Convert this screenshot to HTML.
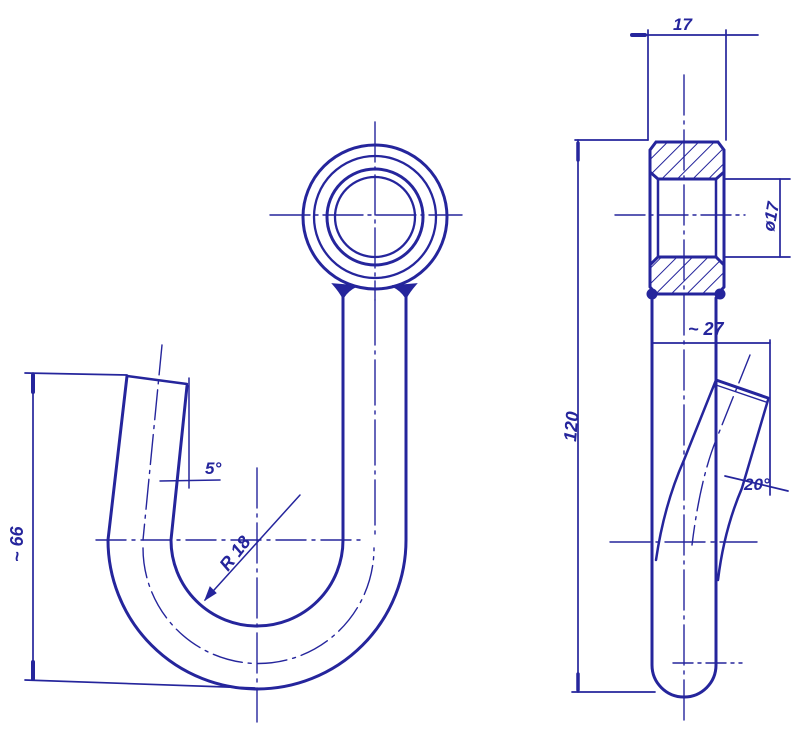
<!DOCTYPE html>
<html><head><meta charset="utf-8"><style>
html,body{margin:0;padding:0;background:#fff}
svg{display:block}
text{font-family:"Liberation Sans",sans-serif;font-style:italic;font-weight:bold;fill:#25259c}
</style></head><body>
<svg width="800" height="736" viewBox="0 0 800 736" xmlns="http://www.w3.org/2000/svg">
<defs>
<pattern id="h" width="11" height="11" patternUnits="userSpaceOnUse" patternTransform="rotate(45)">
<line x1="0" y1="0" x2="0" y2="11" stroke="#25259c" stroke-width="2"/>
</pattern>
</defs>
<g fill="none" stroke="#25259c" stroke-width="2.3" stroke-linecap="round">
<circle cx="375" cy="217" r="72" stroke-width="3"/>
<circle cx="375" cy="217" r="61" stroke-width="2.3"/>
<circle cx="375" cy="217" r="48" stroke-width="3"/>
<circle cx="375" cy="217" r="40" stroke-width="2.3"/>
<g stroke-width="1.4">
<line x1="270" y1="215" x2="462" y2="215" stroke-dasharray="40 5 3 5"/>
<line x1="375" y1="122" x2="375" y2="300" stroke-dasharray="40 5 3 5"/>
<line x1="375" y1="300" x2="375" y2="540" stroke-dasharray="45 6 3 6"/>
</g>
<path d="M333 284 Q340 292 343 298 Q348 290 357 286 Z" fill="#25259c" stroke-width="1.5"/>
<path d="M416 284 Q409 292 406 298 Q401 290 392 286 Z" fill="#25259c" stroke-width="1.5"/>
<path d="M406 292 L406 540 A149 149 0 0 1 108 540 L127 376" stroke-width="3"/>
<path d="M343 295 L343 540 A86 86 0 0 1 171 540 L187 386" stroke-width="3"/>
<path d="M127 376 L187 384" stroke-width="2.5"/>
<g stroke-width="1.4" stroke-dasharray="30 6 3 6">
<line x1="162" y1="345" x2="143" y2="540"/>
<path d="M143 548 A114 114 0 0 0 374 548"/>
</g>
<g stroke-width="1.4">
<line x1="96" y1="540" x2="360" y2="540" stroke-dasharray="30 6 3 6"/>
<line x1="257" y1="468" x2="257" y2="722" stroke-dasharray="40 6 3 6"/>
</g>
<line x1="205" y1="600" x2="300" y2="495" stroke-width="1.5"/>
<path d="M205 600 L210 587 L216 593 Z" fill="#25259c" stroke-width="1"/>
<g stroke-width="1.5">
<line x1="189" y1="378" x2="189" y2="488"/>
<line x1="160" y1="481" x2="220" y2="480"/>
</g>
<g stroke-width="1.7">
<line x1="33" y1="373" x2="33" y2="680"/>
<line x1="25" y1="373" x2="127" y2="375"/>
<line x1="25" y1="680" x2="255" y2="688"/>
</g>
<line x1="33" y1="375" x2="33" y2="392" stroke-width="4"/>
<line x1="33" y1="662" x2="33" y2="679" stroke-width="4"/>

<g stroke-width="1.7">
<line x1="632" y1="35" x2="758" y2="35"/>
<line x1="648" y1="30" x2="648" y2="140"/>
<line x1="726" y1="30" x2="726" y2="140"/>
<line x1="575" y1="140" x2="648" y2="140"/>
<line x1="578" y1="140" x2="578" y2="692"/>
<line x1="572" y1="692" x2="655" y2="692"/>
</g>
<line x1="632" y1="35" x2="645" y2="35" stroke-width="4"/>
<line x1="578" y1="143" x2="578" y2="160" stroke-width="3.5"/>
<line x1="578" y1="674" x2="578" y2="690" stroke-width="3.5"/>
<path d="M656 142 L718 142 L724 150 L724 172 L716 179 L658 179 L650 172 L650 150 Z" fill="url(#h)" stroke-width="3"/>
<path d="M658 257 L716 257 L724 265 L724 287 L718 294 L656 294 L650 287 L650 265 Z" fill="url(#h)" stroke-width="3"/>
<line x1="650" y1="172" x2="650" y2="265" stroke-width="3"/>
<line x1="724" y1="172" x2="724" y2="265" stroke-width="3"/>
<line x1="658" y1="179" x2="658" y2="257" stroke-width="2.5"/>
<line x1="716" y1="179" x2="716" y2="257" stroke-width="2.5"/>
<g stroke-width="1.7">
<line x1="724" y1="179" x2="790" y2="179"/>
<line x1="724" y1="257" x2="790" y2="257"/>
<line x1="780" y1="179" x2="780" y2="257"/>
</g>
<g stroke-width="1.4">
<line x1="615" y1="215" x2="745" y2="215" stroke-dasharray="30 5 3 5"/>
<line x1="684" y1="75" x2="684" y2="725" stroke-dasharray="40 6 3 6"/>
</g>
<circle cx="652" cy="294" r="5.5" fill="#25259c" stroke="none"/>
<circle cx="720" cy="294" r="5.5" fill="#25259c" stroke="none"/>
<path d="M652 298 L652 665 A32 32 0 0 0 716 665 L716 298" stroke-width="3"/>
<path d="M716 380 L768 398" stroke-width="3"/>
<path d="M716 385 L766 402" stroke-width="1.4"/>
<path d="M716 380 L684 460 Q664 505 656 560" stroke-width="2.5"/>
<path d="M768 400 L742 488 Q724 530 718 580" stroke-width="2.5"/>
<path d="M750 355 L716 440 Q700 480 692 545" stroke-width="1.4" stroke-dasharray="30 6 3 6"/>
<g stroke-width="1.7">
<line x1="652" y1="343" x2="770" y2="343"/>
<line x1="770" y1="340" x2="770" y2="495"/>
<line x1="725" y1="476" x2="788" y2="491"/>
</g>
<g stroke-width="1.4">
<line x1="610" y1="542" x2="757" y2="542" stroke-dasharray="40 6 3 6"/>
<line x1="673" y1="663" x2="742" y2="663" stroke-dasharray="20 5 3 5"/>
</g>
</g>
<text x="673" y="30" font-size="17">17</text>
<text transform="translate(774,232) rotate(-80)" font-size="17">ø17</text>
<text x="688" y="335" font-size="18">~ 27</text>
<text x="744" y="490" font-size="17">20°</text>
<text transform="translate(576,442) rotate(-85)" font-size="18">120</text>
<text transform="translate(228,572) rotate(-52)" font-size="18">R 18</text>
<text x="205" y="474" font-size="17">5°</text>
<text transform="translate(23,562) rotate(-90)" font-size="18">~ 66</text>
</svg>
</body></html>
